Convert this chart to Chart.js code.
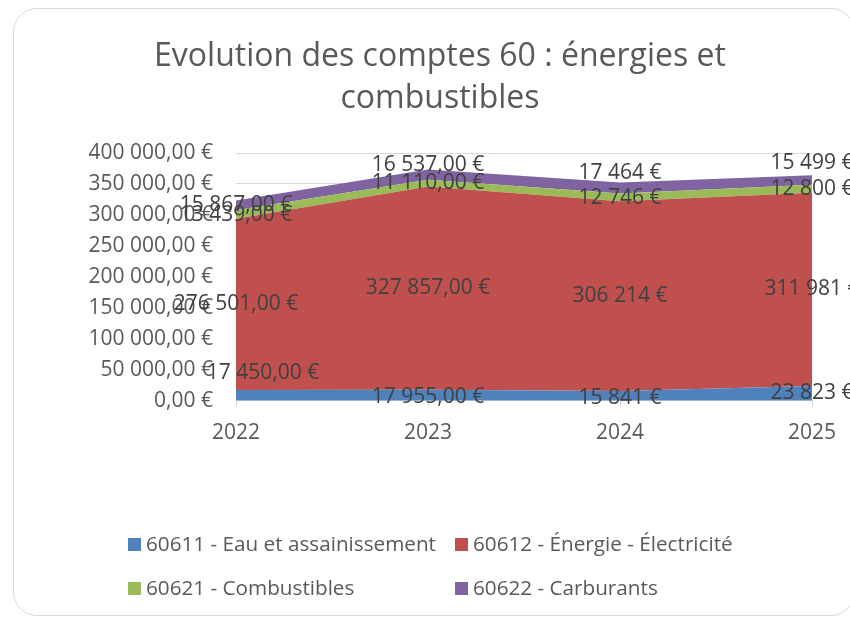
<!DOCTYPE html>
<html lang="fr">
<head>
<meta charset="utf-8">
<script src="https://cdn.jsdelivr.net/npm/chart.js@4.4.0/dist/chart.umd.min.js"></script>
<style>
  html, body { margin: 0; padding: 0; background: #fff; overflow: hidden; }
  body { width: 850px; height: 618px; position: relative; font-family: 'Open Sans', sans-serif; }
  .card { position: absolute; left: 13px; top: 8px; width: 842px; height: 608px; border: 1px solid #d9d9d9; border-radius: 24px; box-sizing: border-box; }
  #wrap { position: absolute; left: 13px; top: 0; width: 854px; height: 618px; }
  .legend { position: absolute; left: 0; top: 0; font-size: 20.7px; color: #595959; }
  .item { position: absolute; white-space: nowrap; line-height: 24px; }
  .item i { display: inline-block; width: 13px; height: 13px; margin-right: 5px; vertical-align: 0px; }
</style>
</head>
<body>
<div class="card"></div>
<div id="wrap"><canvas id="chart"></canvas></div>
<div class="legend" id="legend"></div>
<script>
// Data
const years = ['2022', '2023', '2024', '2025'];
const seriesNames = [
  '60611 - Eau et assainissement',
  '60612 - Énergie - Électricité',
  '60621 - Combustibles',
  '60622 - Carburants'
];
const eau = [17450, 17955, 15841, 23823];
const electricite = [276501, 327857, 306214, 311981];
const combustibles = [13439, 11110, 12746, 12800];
const carburants = [15867, 16537, 17464, 15499];
const labelDecimals = [2, 2, 0, 0];
const yTicks = [0, 50000, 100000, 150000, 200000, 250000, 300000, 350000, 400000];

const colors = ['#4f81bd', '#c0504d', '#9bbb59', '#8064a2'];
const FONT = "'Open Sans', sans-serif";

function fmt(v, dec) {
  const s = Math.round(v).toString().replace(/\B(?=(\d{3})+(?!\d))/g, ' ');
  return s + (dec ? ',' + '0'.repeat(dec) : '') + ' €';
}

// Value labels in the middle of each band
const valueLabels = {
  id: 'valueLabels',
  afterDatasetsDraw(chart, args, opts) {
    const ctx = chart.ctx;
    const y = chart.scales.y;
    const base = years.map(() => 0);
    ctx.save();
    ctx.font = '21px ' + FONT;
    ctx.fillStyle = '#404040';
    ctx.textAlign = 'center';
    ctx.textBaseline = 'middle';
    chart.data.datasets.forEach((ds, d) => {
      const meta = chart.getDatasetMeta(d);
      ds.data.forEach((v, i) => {
        const n = (opts.nudges[d] || [])[i] || [0, 0];
        const px = meta.data[i].x + n[0];
        const py = y.getPixelForValue(base[i] + v / 2) + n[1];
        ctx.fillText(fmt(v, labelDecimals[i]), px, py);
        base[i] += v;
      });
    });
    ctx.restore();
  }
};

const allSeries = [eau, electricite, combustibles, carburants];

const ctx = document.getElementById('chart').getContext('2d');
const chart = new Chart(ctx, {
  type: 'line',
  data: {
    labels: years,
    datasets: allSeries.map((data, k) => ({
      label: seriesNames[k],
      data: data,
      backgroundColor: colors[k],
      borderColor: colors[k],
      borderWidth: 0,
      pointRadius: 0,
      tension: 0,
      fill: k === 0 ? 'origin' : '-1'
    }))
  },
  options: {
    responsive: true,
    maintainAspectRatio: false,
    animation: false,
    layout: { padding: { left: 55, right: 55, top: 0, bottom: 158 } },
    scales: {
      x: {
        offset: false,
        grid: { drawOnChartArea: false, drawTicks: true, tickLength: 6, color: '#d9d9d9' },
        border: { display: true, color: '#d9d9d9' },
        ticks: { color: '#595959', font: { family: FONT, size: 21 }, padding: 14, maxRotation: 0 }
      },
      y: {
        stacked: true,
        min: 0,
        max: 400000,
        afterBuildTicks: (s) => { s.ticks = yTicks.map(v => ({ value: v })); },
        afterFit: (s) => { s.width = 168; },
        grid: { color: '#d9d9d9', drawTicks: false },
        border: { display: false },
        ticks: {
          color: '#595959',
          font: { family: FONT, size: 21 },
          padding: 23,
          callback: (v) => fmt(v, 2)
        }
      }
    },
    plugins: {
      legend: { display: false },
      tooltip: { enabled: false },
      title: {
        display: true,
        text: ['Evolution des comptes 60 : énergies et', 'combustibles'],
        color: '#595959',
        font: { family: FONT, size: 32, weight: 'normal', lineHeight: '42px' },
        padding: { top: 36, bottom: 33 }
      },
      valueLabels: {
        nudges: [
          [[27, -22], [0, 2], [0, 2], [0, 0]],
          [],
          [[0, 0], [0, 0], [0, 1], [0, 0]],
          [[0, 0], [0, -10], [0, -15], [0, -17]]
        ]
      }
    }
  },
  plugins: [valueLabels]
});

// Legend laid out in two columns like the original
const legend = document.getElementById('legend');
const cols = [128, 455];
const rows = [531, 575];
seriesNames.forEach((name, k) => {
  const el = document.createElement('div');
  el.className = 'item';
  el.style.left = cols[k % 2] + 'px';
  el.style.top = rows[Math.floor(k / 2)] + 'px';
  el.innerHTML = '<i style="background:' + colors[k] + '"></i>' + name;
  legend.appendChild(el);
});
</script>
</body>
</html>
